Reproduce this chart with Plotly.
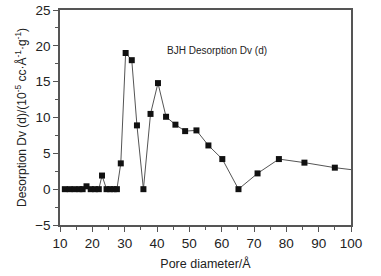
import plotly.graph_objects as go

pore_diameter = [11.5, 13, 14.5, 16, 17, 18.2, 19.5, 20.8, 22, 23, 24.4, 25.5, 26.6, 27.6, 28.8,
                 30.3, 32.2, 33.8, 35.8, 38.0, 40.3, 42.8, 45.7, 48.7, 52.2, 55.9, 60.2,
                 65.2, 71.1, 77.7, 85.6, 95.0, 106.0]
dv = [0, 0, 0, 0, 0, 0.4, 0, 0, 0, 1.9, 0, 0, 0, 0, 3.6,
      19.0, 18.0, 8.9, 0, 10.5, 14.8, 10.1, 9.0, 8.1, 8.2, 6.1, 4.2,
      0, 2.2, 4.2, 3.7, 3.0, 2.4]

x_ticks = [10, 20, 30, 40, 50, 60, 70, 80, 90, 100]
y_ticks = [-5, 0, 5, 10, 15, 20, 25]

font = "Liberation Sans, Arial, sans-serif"
axcol = "#555555"
txtcol = "#222222"

fig = go.Figure()
fig.add_trace(go.Scatter(
    x=pore_diameter, y=dv, mode="lines+markers",
    line=dict(color="#555555", width=1),
    marker=dict(symbol="square", size=6, color="#111111"),
    cliponaxis=True, showlegend=False,
))

fig.add_annotation(x=42.6, y=19.3, xref="x", yref="y", text="BJH Desorption Dv (d)",
                   showarrow=False, xanchor="left", yanchor="middle",
                   font=dict(family=font, size=10, color=txtcol))

fig.update_xaxes(range=[10, 100], tickvals=x_ticks, ticks="outside", ticklen=5,
                 tickcolor=axcol, showline=True, linecolor=axcol, linewidth=1.5, mirror=True,
                 showgrid=False, zeroline=False,
                 minor=dict(dtick=5, ticks="outside", ticklen=3, tickcolor=axcol),
                 tickfont=dict(family=font, size=13.5, color=txtcol),
                 title=dict(text="Pore diameter/Å", font=dict(family=font, size=12.5, color=txtcol),
                            standoff=9))
fig.update_yaxes(range=[-5, 25], tickvals=y_ticks, ticks="outside", ticklen=5,
                 tickcolor=axcol, showline=True, linecolor=axcol, linewidth=1.5, mirror=True,
                 showgrid=False, zeroline=False,
                 minor=dict(dtick=2.5, ticks="outside", ticklen=3, tickcolor=axcol),
                 tickfont=dict(family=font, size=13.5, color=txtcol),
                 title=dict(text="Desorption Dv (d)/(10<sup>-5</sup> cc·Å<sup>-1</sup>·g<sup>-1</sup>)",
                            font=dict(family=font, size=12, color=txtcol), standoff=6))

fig.update_layout(width=381, height=276, margin=dict(l=60, r=30, t=10, b=51, autoexpand=False),
                  paper_bgcolor="white", plot_bgcolor="white")
fig.write_html("out.html", config={"displayModeBar": False},
               post_script="document.body.style.margin='0';document.body.style.overflow='hidden';")
